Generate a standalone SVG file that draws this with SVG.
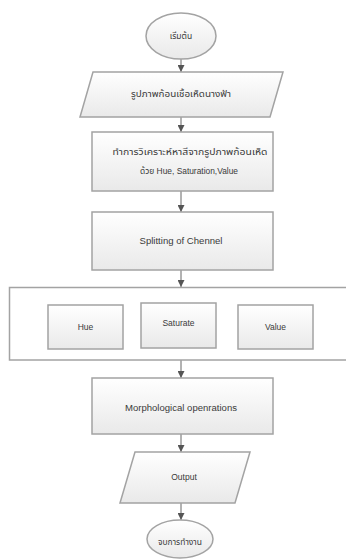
<svg xmlns="http://www.w3.org/2000/svg" width="346" height="559" viewBox="0 0 346 559">
<defs>
<linearGradient id="g" x1="0" y1="0" x2="0" y2="1">
<stop offset="0" stop-color="#ffffff"/>
<stop offset="1" stop-color="#e9e9e9"/>
</linearGradient>
<marker id="arr" markerWidth="7" markerHeight="7" refX="7" refY="3.5" orient="auto" markerUnits="userSpaceOnUse">
<path d="M0,0 L7,3.5 L0,7 Z" fill="#555"/>
</marker>
<style>
.s{fill:url(#g);stroke:#a3a3a3;stroke-width:1.5}
.c{fill:#fff;stroke:#a3a3a3;stroke-width:1.5}
.t{font-family:"Liberation Sans","Noto Sans Thai","Noto Sans",sans-serif;font-size:8.5px;fill:#3a3a3a;text-anchor:middle;dominant-baseline:central}
.l{stroke:#666;stroke-width:1;fill:none;marker-end:url(#arr)}
</style>
</defs>
<rect width="346" height="559" fill="#fff"/>
<g id="connectors">
<line class="l" x1="181" y1="59" x2="181" y2="72"/>
<line class="l" x1="181" y1="117" x2="181" y2="132"/>
<line class="l" x1="181" y1="191" x2="181" y2="212"/>
<line class="l" x1="181" y1="270" x2="181" y2="287"/>
<line class="l" x1="181" y1="360" x2="181" y2="378"/>
<line class="l" x1="181" y1="434" x2="181" y2="452"/>
<line class="l" x1="181" y1="503" x2="181" y2="520"/>
</g>
<g id="start">
<ellipse class="s" cx="181" cy="36" rx="35" ry="23"/>
<text class="t" x="181" y="36">เริ่มต้น</text>
</g>
<g id="input">
<polygon class="s" points="93,72 283,72 270,117 80,117"/>
<text class="t" x="181" y="94" textLength="100" lengthAdjust="spacingAndGlyphs">รูปภาพก้อนเชื้อเห็ดนางฟ้า</text>
</g>
<g id="analyze">
<rect class="s" x="92" y="132" width="181" height="59"/>
<text class="t" x="190" y="152" textLength="155" lengthAdjust="spacingAndGlyphs">ทำการวิเคราะห์หาสีจากรูปภาพก้อนเห็ด</text>
<text class="t" x="189" y="171" textLength="98" lengthAdjust="spacingAndGlyphs">ด้วย  Hue, Saturation,Value</text>
</g>
<g id="split">
<rect class="s" x="92" y="212" width="181" height="58"/>
<text class="t" x="181" y="241" textLength="83" lengthAdjust="spacingAndGlyphs">Splitting of Chennel</text>
</g>
<g id="container">
<rect class="c" x="9.5" y="287.5" width="345" height="72.5"/>
</g>
<g id="hue">
<rect class="s" x="48" y="305" width="75" height="44"/>
<text class="t" x="85.5" y="327">Hue</text>
</g>
<g id="saturate">
<rect class="s" x="141" y="303" width="75" height="45"/>
<text class="t" x="178.5" y="323">Saturate</text>
</g>
<g id="value">
<rect class="s" x="238" y="305" width="75" height="44"/>
<text class="t" x="275.5" y="327">Value</text>
</g>
<g id="morph">
<rect class="s" x="92" y="378" width="181" height="56"/>
<text class="t" x="181" y="408" textLength="112" lengthAdjust="spacingAndGlyphs">Morphological openrations</text>
</g>
<g id="output">
<polygon class="s" points="135,452 250,452 235,503 120,503"/>
<text class="t" x="184" y="477">Output</text>
</g>
<g id="end">
<ellipse class="s" cx="180" cy="539" rx="33" ry="19"/>
<text class="t" x="180" y="542" textLength="44" lengthAdjust="spacingAndGlyphs">จบการทำงาน</text>
</g>
</svg>
